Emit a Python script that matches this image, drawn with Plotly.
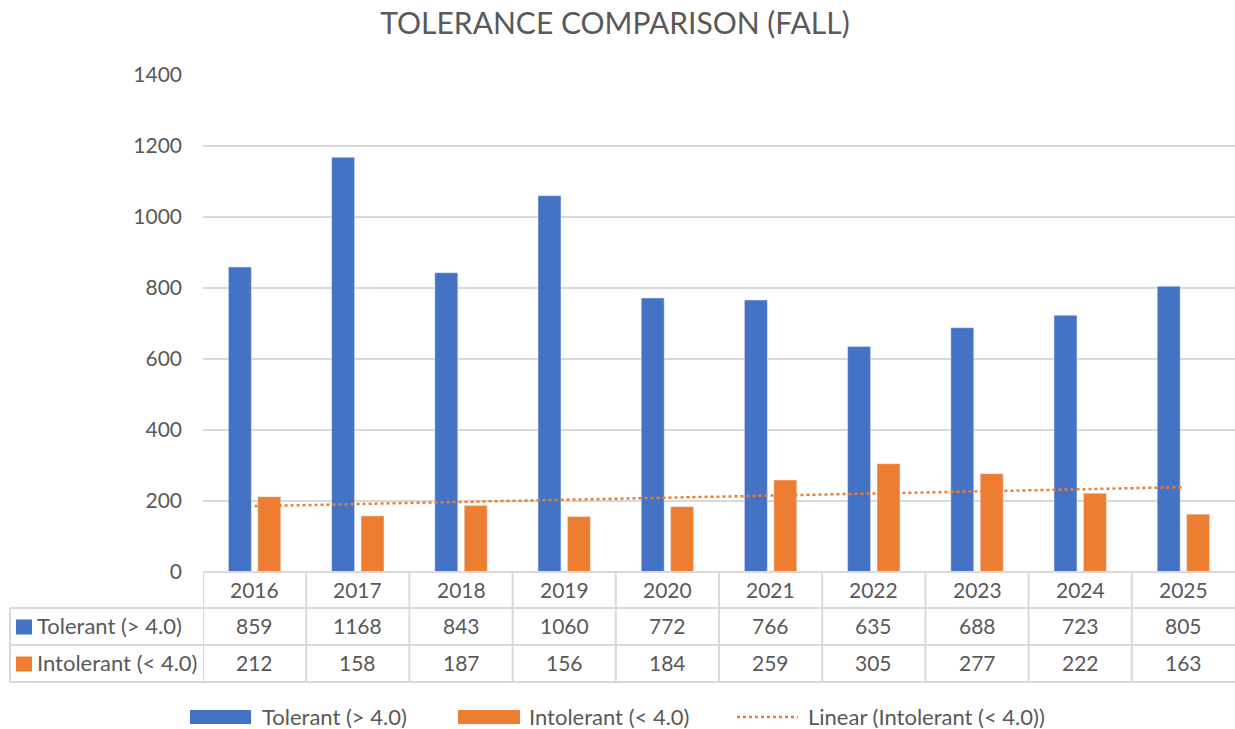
import numpy as np
import plotly.graph_objects as go

years = ["2016", "2017", "2018", "2019", "2020", "2021", "2022", "2023", "2024", "2025"]
tolerant = [859, 1168, 843, 1060, 772, 766, 635, 688, 723, 805]
intolerant = [212, 158, 187, 156, 184, 259, 305, 277, 222, 163]
series_names = ["Tolerant (> 4.0)", "Intolerant (< 4.0)"]
trend_name = "Linear (Intolerant (< 4.0))"
y_ticks = [0, 200, 400, 600, 800, 1000, 1200, 1400]

BLUE = "#4472C4"
ORANGE = "#ED7D31"
GRID = "#D9D9D9"
TXT = "#595959"
FONT = "Lato"

W, H = 1235, 729
ML, MR, MT, MB = 203, 0, 75, 157
PW = W - ML - MR
PH = H - MT - MB


def py(p):  # pixel y -> paper y
    return (H - MB - p) / PH


def px(p):  # pixel x -> paper x
    return (p - ML) / PW


# linear trendline (least squares, like Excel)
xi = np.arange(1, len(intolerant) + 1)
slope, intercept = np.polyfit(xi, intolerant, 1)
trend = slope * xi + intercept

fig = go.Figure()
fig.add_trace(go.Bar(x=years, y=tolerant, name=series_names[0], marker_color=BLUE))
fig.add_trace(go.Bar(x=years, y=intolerant, name=series_names[1], marker_color=ORANGE))
fig.add_trace(go.Scatter(x=years, y=trend, name=trend_name, mode="lines",
                         line=dict(color=ORANGE, width=2.5, dash="dot")))

shapes = []
annotations = []

# table geometry (pixels)
row_tops = [572, 608, 645, 682]
line_style = dict(color=GRID, width=2)
shapes.append(dict(type="line", xref="paper", yref="paper", x0=0, x1=1,
                   y0=py(row_tops[0]), y1=py(row_tops[0]), line=line_style))
for r in row_tops[1:]:
    shapes.append(dict(type="line", xref="paper", yref="paper", x0=px(10), x1=1,
                       y0=py(r), y1=py(r), line=line_style))
for i in range(len(years)):
    shapes.append(dict(type="line", xref="x", yref="paper", x0=i - 0.5, x1=i - 0.5,
                       y0=py(row_tops[0]), y1=py(row_tops[-1]), line=line_style))
shapes.append(dict(type="line", xref="paper", yref="paper", x0=px(10), x1=px(10),
                   y0=py(row_tops[1]), y1=py(row_tops[-1]), line=line_style))

# table text
tfont = dict(family=FONT, size=21, color=TXT)
rfont = dict(family=FONT, size=22, color=TXT)


def ann(x, xref, y, text, font, xanchor="center"):
    return dict(x=x, xref=xref, y=py(y), yref="paper", text=text, showarrow=False,
                font=font, xanchor=xanchor, yanchor="middle")


for i, yr in enumerate(years):
    annotations.append(ann(i, "x", (row_tops[0] + row_tops[1]) / 2 - 1, yr, tfont))
    annotations.append(ann(i, "x", (row_tops[1] + row_tops[2]) / 2 - 1, str(tolerant[i]), tfont))
    annotations.append(ann(i, "x", (row_tops[2] + row_tops[3]) / 2 - 1, str(intolerant[i]), tfont))

for k, (name, col) in enumerate(zip(series_names, [BLUE, ORANGE])):
    yc = (row_tops[k + 1] + row_tops[k + 2]) / 2
    shapes.append(dict(type="rect", xref="paper", yref="paper", x0=px(16), x1=px(32),
                       y0=py(yc + 8), y1=py(yc - 7), fillcolor=col, line=dict(width=0)))
    annotations.append(ann(px(35), "paper", yc - 1, name, rfont, "left"))

# custom legend
ly = 717
lfont = dict(family=FONT, size=22, color=TXT)
shapes.append(dict(type="rect", xref="paper", yref="paper", x0=px(190), x1=px(251),
                   y0=py(ly + 7), y1=py(ly - 7), fillcolor=BLUE, line=dict(width=0)))
annotations.append(ann(px(260), "paper", ly - 1, series_names[0], lfont, "left"))
shapes.append(dict(type="rect", xref="paper", yref="paper", x0=px(458), x1=px(520),
                   y0=py(ly + 7), y1=py(ly - 7), fillcolor=ORANGE, line=dict(width=0)))
annotations.append(ann(px(527), "paper", ly - 1, series_names[1], lfont, "left"))
shapes.append(dict(type="line", xref="paper", yref="paper", x0=px(737), x1=px(798),
                   y0=py(ly), y1=py(ly), line=dict(color=ORANGE, width=2.5, dash="dot")))
annotations.append(ann(px(806), "paper", ly - 1, trend_name, lfont, "left"))

fig.update_layout(
    width=W, height=H,
    margin=dict(l=ML, r=MR, t=MT, b=MB),
    paper_bgcolor="white", plot_bgcolor="white",
    title=dict(text="TOLERANCE COMPARISON (FALL)", x=(375 + 855) / 2 / W, xanchor="center",
               y=1 - 23 / H, yanchor="middle",
               font=dict(family=FONT, size=30, color=TXT)),
    showlegend=False,
    barmode="group", bargap=0.43, bargroupgap=0.22,
    xaxis=dict(type="category", showticklabels=False, showgrid=False, zeroline=False,
               showline=False, range=[-0.5, len(years) - 0.5]),
    yaxis=dict(range=[0, 1400], tickvals=y_ticks, showgrid=True, gridcolor=GRID, gridwidth=1.5,
               zeroline=False, showline=False, ticklabelstandoff=20,
               tickfont=dict(family=FONT, size=21, color=TXT)),
    shapes=shapes, annotations=annotations,
)

fig.write_html("out.html", config={"displayModeBar": False},
               post_script="document.body.style.margin='0';document.body.style.overflow='hidden';")
